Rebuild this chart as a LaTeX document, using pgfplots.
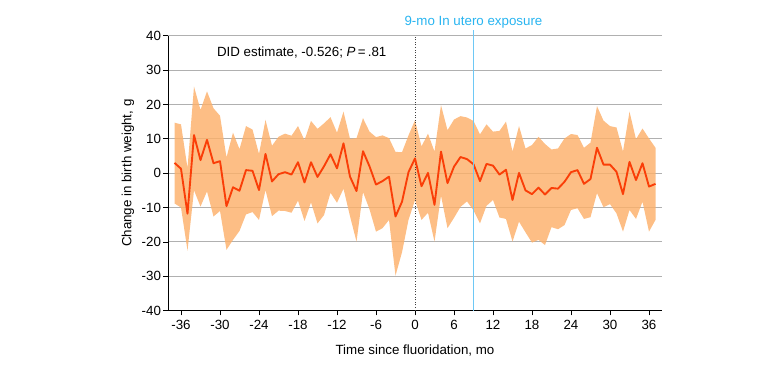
\documentclass[border=0pt]{standalone}
\usepackage{pgfplots}
\pgfplotsset{compat=1.18}
\usepackage{pgfplotstable}
\usepgfplotslibrary{fillbetween}
\usepackage{fontspec}
\setmainfont{Liberation Sans}

\definecolor{bandorange}{RGB}{252,176,106}
\definecolor{lineorange}{RGB}{250,62,8}
\definecolor{expblue}{RGB}{40,180,240}
\definecolor{exppale}{RGB}{110,200,245}
\definecolor{gridgray}{RGB}{176,176,176}

% month, estimate, lower 95% CI, upper 95% CI
\pgfplotstableread{
m    est    lo     hi
-37   3.0   -8.8   14.7
-36   1.3  -10.0   14.2
-35 -11.8  -22.5    1.5
-34  11.1   -5.0   25.2
-33   3.8   -9.7   18.4
-32   9.7   -5.3   23.8
-31   2.9  -12.6   18.9
-30   3.5  -11.0   16.7
-29  -9.6  -22.3    4.6
-28  -4.1  -19.4   11.8
-27  -5.1  -16.8    7.0
-26   0.9  -12.0   13.7
-25   0.7  -11.3   12.7
-24  -4.9  -13.6    5.6
-23   5.6   -4.9   15.5
-22  -2.4  -12.5    8.0
-21  -0.3  -10.9   10.6
-20   0.3  -11.0   11.5
-19  -0.4  -11.5   10.9
-18   3.2   -8.0   13.7
-17  -2.7  -13.9    9.6
-16   3.2   -8.5   15.2
-15  -1.1  -14.6   12.9
-14   2.0  -12.2   14.5
-13   5.5   -5.7   16.3
-12   1.4   -8.6   11.8
-11   8.7   -4.5   17.9
-10  -1.0  -12.5   10.0
-9   -5.2  -19.9   10.2
-8    6.4   -5.5   16.0
-7    2.0  -10.5   12.1
-6   -3.3  -17.0   10.5
-5   -2.3  -16.0   11.0
-4   -1.0  -13.6   10.2
-3  -12.6  -29.8    6.2
-2   -8.3  -23.0    6.1
-1    0.3  -13.6   11.0
0     4.3   -7.8   15.4
1    -3.8  -13.6    7.8
2     0.1  -11.5   11.5
3    -9.2  -19.9    6.3
4     6.3   -6.5   19.8
5    -2.9  -16.0   12.5
6     1.9  -13.0   15.6
7     4.7   -9.8   16.6
8     4.1   -8.2   16.2
9     2.6  -10.8   15.2
10   -2.3  -14.6   11.3
11    2.7   -9.5   14.2
12    2.2   -7.8   12.1
13   -0.4  -12.9   12.3
14    1.0  -13.3   15.0
15   -7.8  -19.9    6.3
16    0.1  -14.1   13.7
17   -5.0  -17.2    7.2
18   -6.1  -20.2    8.2
19   -4.2  -19.4   10.6
20   -6.2  -20.9    8.5
21   -4.3  -15.7    6.9
22   -4.5  -16.3    7.2
23   -2.5  -15.1   10.1
24    0.3  -10.7   11.4
25    0.9  -10.2   11.1
26   -3.1  -13.3    7.4
27   -1.7  -12.8    8.9
28    7.4   -5.8   19.5
29    2.5   -9.9   15.3
30    2.5   -9.0   13.7
31    0.4  -11.7   13.3
32   -6.1  -17.0    6.3
33    3.3  -10.7   17.9
34   -2.0  -13.3    9.9
35    2.9   -8.3   13.0
36   -3.9  -17.0   10.1
37   -3.1  -13.6    7.4
}\did

\begin{document}
\begin{tikzpicture}
% page frame, 780 x 366 units of 0.75pt
\path (0pt,0pt) rectangle (585pt,274.5pt);
\begin{axis}[
  at={(126pt,41.475pt)}, anchor=south west,
  scale only axis,
  width=370.5pt, height=206.25pt,
  xmin=-38, xmax=38,
  ymin=-40, ymax=40,
  axis lines*=left,
  axis line style={black, line width=0.7pt},
  xtick={-36,-30,...,36},
  xticklabels={-36,-30,-24,-18,-12,-6,0,6,12,18,24,30,36},
  ytick={-40,-30,...,40},
  yticklabels={-40,-30,-20,-10,0,10,20,30,40},
  tick align=outside,
  major tick length=3.6pt,
  tick style={black, line width=0.6pt},
  ymajorgrids,
  grid style={gridgray, line width=0.75pt},
  xticklabel style={inner sep=1.5pt, yshift=-1.5pt},
  yticklabel style={inner sep=1.5pt},
  xlabel={Time since fluoridation, mo},
  ylabel={Change in birth weight, g},
  xlabel style={at={(axis description cs:0.5,-0.1465)}, anchor=center},
  ylabel style={at={(axis description cs:-0.0809,0.5)}, anchor=center},
  clip=false,
]
  \addplot[name path=upper, draw=none, forget plot] table[x=m, y=hi] {\did};
  \addplot[name path=lower, draw=none, forget plot] table[x=m, y=lo] {\did};
  \addplot[fill=bandorange, fill opacity=0.82, draw=none, forget plot]
    fill between[of=upper and lower];

  % fluoridation start
  \addplot[black!75, dash pattern=on 0.75pt off 1.2pt, line width=0.6pt, forget plot]
    coordinates {(0,-40) (0,40)};

  \addplot[lineorange, line width=1.4pt, line join=round, mark=none]
    table[x=m, y=est] {\did};

  % end of the 9-month in utero exposure window
  \addplot[exppale, line width=1pt, mark=none]
    coordinates {(9,-40) (9,41.6)};

  \node[anchor=base, text=expblue, inner sep=0pt]
    at (axis cs:9,40) [yshift=8pt] {9-mo In utero exposure};
  \node[anchor=west, inner sep=0pt]
    at (axis cs:-30.5,35.1) {DID estimate, -0.526; \textit{P}\,=\,.81};
\end{axis}
\end{tikzpicture}
\end{document}
